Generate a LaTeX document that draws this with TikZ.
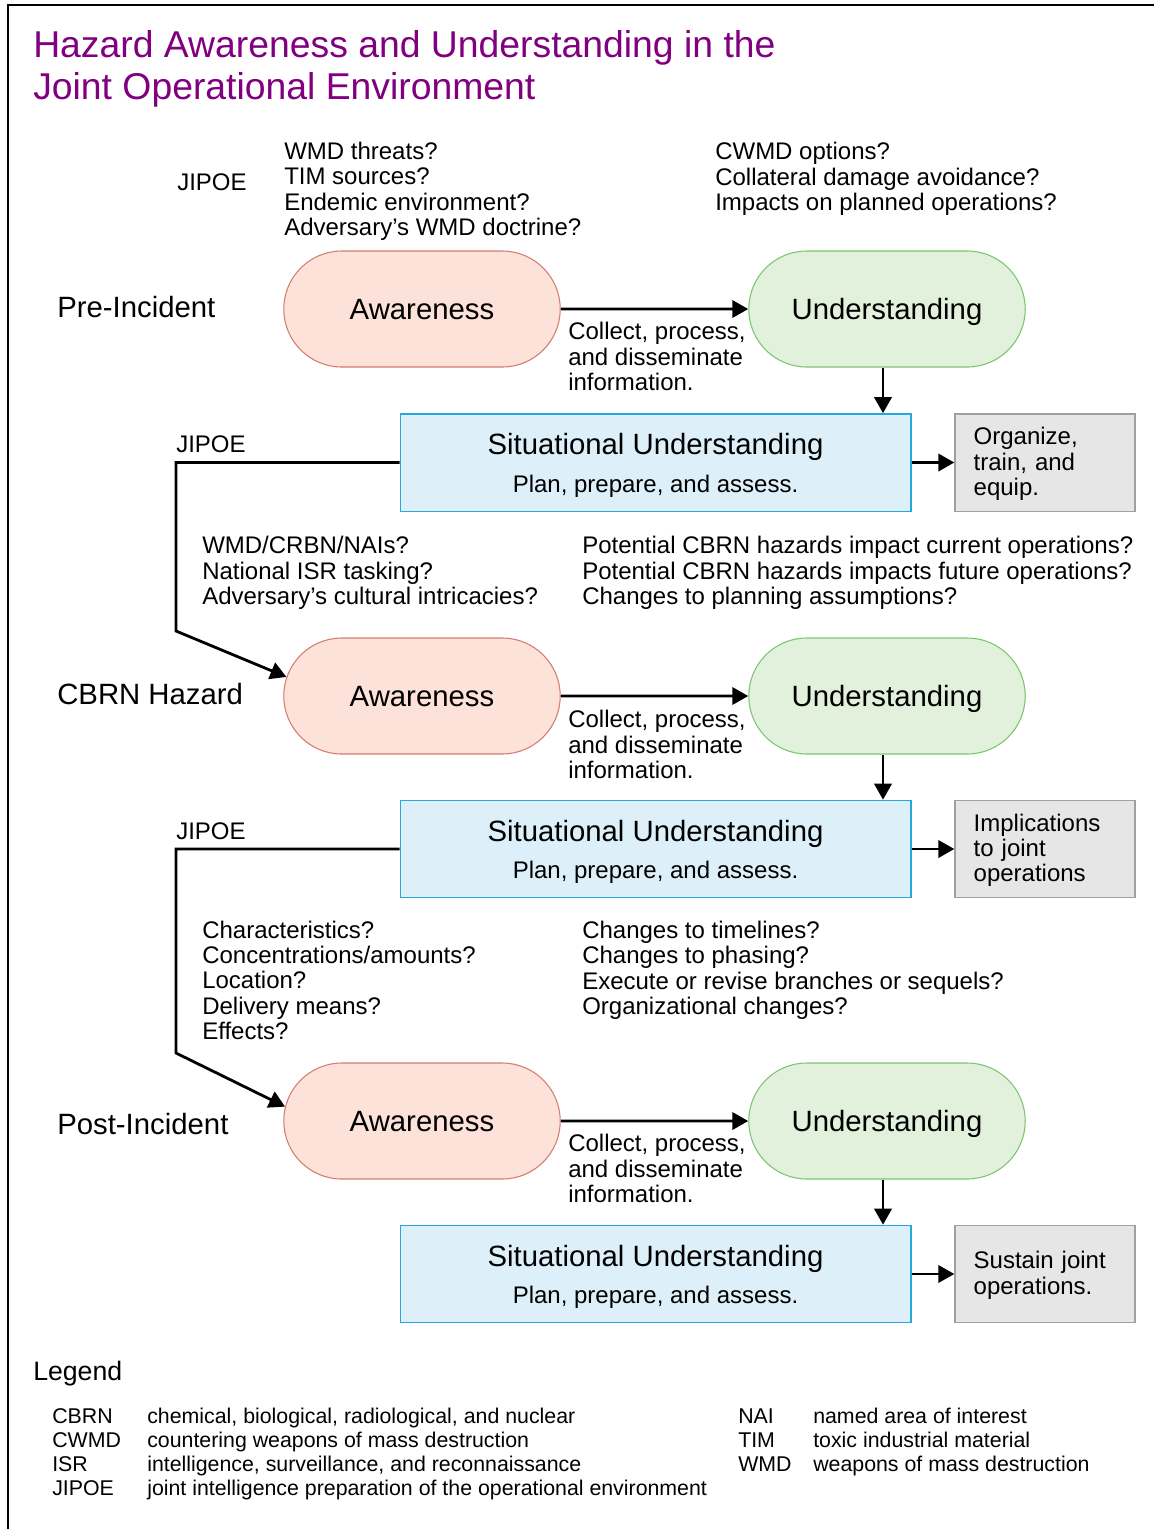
\documentclass[tikz,border=0pt]{standalone}
\usepackage{fontspec}
\setmainfont{Liberation Sans}
\usetikzlibrary{arrows.meta,shapes.misc}

\definecolor{titlepurple}{RGB}{128,0,128}
\definecolor{awfill}{RGB}{252,226,216}
\definecolor{awdraw}{RGB}{212,124,112}
\definecolor{unfill}{RGB}{226,241,220}
\definecolor{undraw}{RGB}{122,198,110}
\definecolor{sufill}{RGB}{221,240,250}
\definecolor{sudraw}{RGB}{40,168,218}
\definecolor{gbfill}{RGB}{230,230,230}
\definecolor{gbdraw}{RGB}{160,160,160}

\newcommand{\bodyfont}{\fontsize{18}{19}\selectfont}
\newcommand{\headfont}{\fontsize{22}{26}\selectfont}
\newcommand{\legfont}{\fontsize{16}{18}\selectfont}

\tikzset{
  pill/.style={rounded rectangle, minimum width=214pt, minimum height=87pt, line width=0.8pt, font=\headfont, text height=15pt, text depth=0pt},
  aware/.style={pill, draw=awdraw, fill=awfill},
  under/.style={pill, draw=undraw, fill=unfill},
  sitbox/.style={rectangle, draw=sudraw, fill=sufill, line width=1pt, minimum width=383pt, minimum height=73pt, align=center, font=\headfont},
  outbox/.style={rectangle, draw=gbdraw, fill=gbfill, line width=1pt, minimum width=135pt, minimum height=73pt, text width=107pt, inner xsep=14pt, align=left, font=\bodyfont},
  txt/.style={anchor=base west, inner sep=0pt, align=left, font=\bodyfont},
  conn/.style={line width=2.1pt, -{Triangle[length=12pt,width=13pt]}},
}

\begin{document}
\begin{tikzpicture}[x=0.75pt,y=0.75pt,yscale=-1]
  \useasboundingbox (0,0) rectangle (1154,1529);
  %frame
  \draw[line width=1.8pt] (8,1529) -- (8,5) -- (1154,5);

  %title (base = last line)
  \node[txt, font=\fontsize{28}{31.5}\selectfont, text=titlepurple] (title) at (33,99.5) {Hazard Awareness and Understanding in the\\Joint Operational Environment};

  %pre-incident
  \node[txt] (jp1) at (177,190.5) {JIPOE};
  \node[txt] (q1) at (284,235.5) {WMD threats?\\TIM sources?\\Endemic environment?\\Adversary’s WMD doctrine?};
  \node[txt] (q2) at (715,210.5) {CWMD options?\\Collateral damage avoidance?\\Impacts on planned operations?};
  \node[txt, font=\headfont] (st1) at (57,317.5) {Pre-Incident};
  \node[aware] (aw1) at (422,309) {Awareness};
  \node[under] (un1) at (887,309) {Understanding};
  \node[txt] (cl1) at (568,390.5) {Collect, process,\\and disseminate\\information.};
  \node[sitbox] (su1) at (655.5,462.5) {\rule{0pt}{20pt}Situational Understanding\\[2pt]{\bodyfont Plan, prepare, and assess.}};
  \node[outbox] (gb1) at (1045,462.5) {\rule{0pt}{15pt}Organize,\\train, and\\equip.};
  \draw[conn] (aw1) -- (un1);
  \draw[conn] ([xshift=-3pt]un1.south) -- ([xshift=-3pt]un1.south |- su1.north);
  \draw[conn] (su1) -- (gb1);

  %cbrn hazard
  \node[txt] (jp2) at (176,452.5) {JIPOE};
  \node[txt] (q3) at (202,604.5) {WMD/CRBN/NAIs?\\National ISR tasking?\\Adversary’s cultural intricacies?};
  \node[txt] (q4) at (582,604.5) {Potential CBRN hazards impact current operations?\\Potential CBRN hazards impacts future operations?\\Changes to planning assumptions?};
  \node[txt, font=\headfont] (st2) at (57,704.5) {CBRN Hazard};
  \node[aware] (aw2) at (422,696) {Awareness};
  \node[under] (un2) at (887,696) {Understanding};
  \node[txt] (cl2) at (568,778.5) {Collect, process,\\and disseminate\\information.};
  \node[sitbox] (su2) at (655.5,849) {\rule{0pt}{20pt}Situational Understanding\\[2pt]{\bodyfont Plan, prepare, and assess.}};
  \node[outbox] (gb2) at (1045,849) {\rule{0pt}{15pt}Implications\\to joint\\operations};
  \coordinate (j1) at (176,631);
  \draw[conn] (su1.west) -| (j1) -- (aw2.172);
  \draw[conn] (aw2) -- (un2);
  \draw[conn] ([xshift=-3pt]un2.south) -- ([xshift=-3pt]un2.south |- su2.north);
  \draw[conn] (su2) -- (gb2);

  %post-incident
  \node[txt] (jp3) at (176,839.5) {JIPOE};
  \node[txt] (q5) at (202,1039.5) {Characteristics?\\Concentrations/amounts?\\Location?\\Delivery means?\\Effects?};
  \node[txt] (q6) at (582,1014.5) {Changes to timelines?\\Changes to phasing?\\Execute or revise branches or sequels?\\Organizational changes?};
  \node[txt, font=\headfont] (st3) at (57,1134.5) {Post-Incident};
  \node[aware] (aw3) at (422,1121) {Awareness};
  \node[under] (un3) at (887,1121) {Understanding};
  \node[txt] (cl3) at (568,1202.5) {Collect, process,\\and disseminate\\information.};
  \node[sitbox] (su3) at (655.5,1274) {\rule{0pt}{20pt}Situational Understanding\\[2pt]{\bodyfont Plan, prepare, and assess.}};
  \node[outbox] (gb3) at (1045,1274) {\rule{0pt}{15pt}Sustain joint\\operations.};
  \coordinate (j2) at (176,1053);
  \draw[conn] (su2.west) -| (j2) -- (aw3.174);
  \draw[conn] (aw3) -- (un3);
  \draw[conn] ([xshift=-3pt]un3.south) -- ([xshift=-3pt]un3.south |- su3.north);
  \draw[conn] (su3) -- (gb3);

  %legend
  \node[txt, font=\fontsize{20}{24}\selectfont] (lg) at (33,1380) {Legend};
  \node[txt, font=\legfont] (lga) at (52,1495.6) {CBRN\\CWMD\\ISR\\JIPOE};
  \node[txt, font=\legfont] (lgb) at (147,1495.6) {chemical, biological, radiological, and nuclear\\countering weapons of mass destruction\\intelligence, surveillance, and reconnaissance\\joint intelligence preparation of the operational environment};
  \node[txt, font=\legfont] (lgc) at (738,1471.6) {NAI\\TIM\\WMD};
  \node[txt, font=\legfont] (lgd) at (813,1471.6) {named area of interest\\toxic industrial material\\weapons of mass destruction};
\end{tikzpicture}
\end{document}
